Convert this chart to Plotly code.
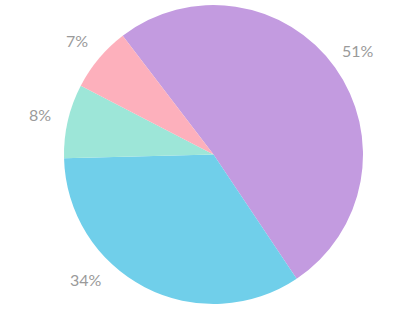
import math
import plotly.graph_objects as go

labels = ["A", "B", "C", "D"]
values = [51, 34, 8, 7]
colors = ["#C39BE0", "#70CFEA", "#9DE6D8", "#FDB0BC"]

W, H = 400, 309
cx, cy, r = 213.5, 154.5, 149.5
rotation = -37.4
label_r = r * 1.19
max_label_y = 279

fig = go.Figure(go.Pie(
    labels=labels, values=values, sort=False, direction="clockwise",
    rotation=rotation, marker=dict(colors=colors, line=dict(width=0)),
    textinfo="none", showlegend=False, hoverinfo="none",
    domain=dict(x=[(cx - r) / W, (cx + r) / W], y=[(H - cy - r) / H, (H - cy + r) / H]),
))

total = sum(values)
start = rotation
anns = []
for v in values:
    span = 360 * v / total
    mid = math.radians(start + span / 2)
    start += span
    dx = label_r * math.sin(mid)
    dy = -label_r * math.cos(mid)
    if cy + dy > max_label_y:
        dy = max_label_y - cy
        dx = math.copysign(math.sqrt(label_r ** 2 - dy ** 2), dx)
    px, py = cx + dx, cy + dy
    anns.append(dict(x=px / W, y=1 - py / H, xref="paper", yref="paper",
                     text=f"{round(100 * v / total)}%", showarrow=False,
                     xanchor="center", yanchor="middle",
                     font=dict(family="Lato", size=16, color="#9a9a9a")))

fig.update_layout(width=W, height=H, margin=dict(l=0, r=0, t=0, b=0),
                  paper_bgcolor="white", plot_bgcolor="white", annotations=anns)
fig.write_html("out.html")
